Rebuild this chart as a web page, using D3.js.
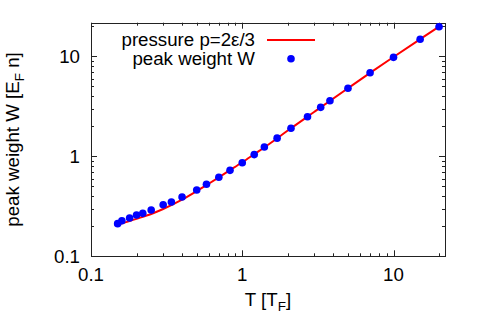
<!DOCTYPE html>
<html><head><meta charset="utf-8">
<script src="https://cdn.jsdelivr.net/npm/d3@7"></script>
<style>body{margin:0;background:#fff}svg{display:block}text{font-family:"Liberation Sans",Arial,sans-serif}</style>
</head><body><svg id="c" width="479" height="335"></svg>
<script>
// Data
const pointT = [0.15,0.16,0.18,0.20,0.22,0.25,0.30,0.34,0.40,0.50,0.58,0.70,0.83,1.0,1.2,1.4,1.7,2.1,2.7,3.3,3.8,5.0,7.0,10,15,20];
const pointW = [0.212,0.227,0.242,0.259,0.269,0.290,0.328,0.349,0.392,0.46,0.525,0.617,0.724,0.863,1.04,1.24,1.52,1.91,2.49,3.09,3.60,4.79,6.86,9.77,14.8,19.8];
const lineT = [0.15,0.2,0.25,0.3,0.4,0.5,0.6,0.7,0.8,1,1.2,1.5,2,3,5,7,10,15,20];
const lineP = [0.207,0.237,0.265,0.297,0.368,0.448,0.532,0.617,0.703,0.872,1.05,1.32,1.81,2.79,4.80,6.84,9.85,14.85,19.85];
const xTickLabels = ["0.1","1","10"];
const yTickLabels = ["0.1","1","10"];
const legendLabels = ["pressure p=2\u03B5/3","peak weight W"];

const FS = 18.7;
const svg = d3.select("#c");
const L=91, R=445, T=22.7, B=256.3;
const x = d3.scaleLog().domain([0.1,21.9]).range([L,R]);
const y = d3.scaleLog().domain([0.1,21.7]).range([B,T]);

// minor ticks
const minorX=[], minorY=[];
[0.1,1,10].forEach(d=>{for(let k=2;k<=9;k++){const v=d*k; if(v<=21.9) minorX.push(v); if(v<=21.7) minorY.push(v);}});
const majors=[0.1,1,10];
const g = svg.append("g").attr("stroke","#222").attr("stroke-width",1);
function tickX(v,len){const px=Math.round(x(v))+0.5;
  g.append("line").attr("x1",px).attr("x2",px).attr("y1",B).attr("y2",B-len);
  g.append("line").attr("x1",px).attr("x2",px).attr("y1",T).attr("y2",T+len);}
function tickY(v,len){const py=Math.round(y(v))+0.5;
  g.append("line").attr("y1",py).attr("y2",py).attr("x1",L).attr("x2",L+len);
  g.append("line").attr("y1",py).attr("y2",py).attr("x1",R).attr("x2",R-len);}
minorX.forEach(v=>tickX(v,3)); majors.forEach(v=>tickX(v,6));
minorY.forEach(v=>tickY(v,3)); majors.forEach(v=>tickY(v,6));
svg.append("rect").attr("x",L+0.5).attr("y",Math.round(T)+0.5).attr("width",R-L).attr("height",Math.round(B)-Math.round(T))
  .attr("fill","none").attr("stroke","#222").attr("stroke-width",1);

// tick labels
svg.selectAll(".xl").data(majors).enter().append("text")
  .attr("x",d=>x(d)).attr("y",281).attr("text-anchor","middle").attr("font-size",FS).attr("fill","#000")
  .text((d,i)=>xTickLabels[i]);
svg.selectAll(".yl").data(majors).enter().append("text")
  .attr("x",80).attr("y",d=>y(d)+6.5).attr("text-anchor","end").attr("font-size",FS).attr("fill","#000")
  .text((d,i)=>yTickLabels[i]);

// axis titles
const xt = svg.append("text").attr("x",268).attr("y",306).attr("text-anchor","middle").attr("font-size",FS);
xt.append("tspan").text("T [T");
xt.append("tspan").attr("font-size",13.5).attr("dy",5).text("F");
xt.append("tspan").attr("dy",-5).text("]");
const yt = svg.append("text").attr("transform","translate(19,139.5) rotate(-90)").attr("text-anchor","middle").attr("font-size",FS);
yt.append("tspan").text("peak weight W [E");
yt.append("tspan").attr("font-size",13.5).attr("dy",5).text("F");
yt.append("tspan").attr("dy",-5).text(" n]");

// line
const line = d3.line().x(d=>x(d[0])).y(d=>y(d[1])).curve(d3.curveMonotoneX);
svg.append("path").datum(lineT.map((t,i)=>[t,lineP[i]])).attr("d",line)
  .attr("fill","none").attr("stroke","#ff0000").attr("stroke-width",2);

// points
svg.selectAll(".pt").data(pointT.map((t,i)=>[t,pointW[i]])).enter().append("circle")
  .attr("cx",d=>x(d[0])).attr("cy",d=>y(d[1])).attr("r",3.8).attr("fill","#0000ff");

// legend
svg.append("text").attr("x",255).attr("y",46).attr("text-anchor","end").attr("font-size",FS).text(legendLabels[0]);
svg.append("text").attr("x",255).attr("y",65).attr("text-anchor","end").attr("font-size",FS).text(legendLabels[1]);
svg.append("line").attr("x1",267).attr("x2",315).attr("y1",40).attr("y2",40).attr("stroke","#ff0000").attr("stroke-width",2);
svg.append("circle").attr("cx",291).attr("cy",58.7).attr("r",3.8).attr("fill","#0000ff");
</script></body></html>
